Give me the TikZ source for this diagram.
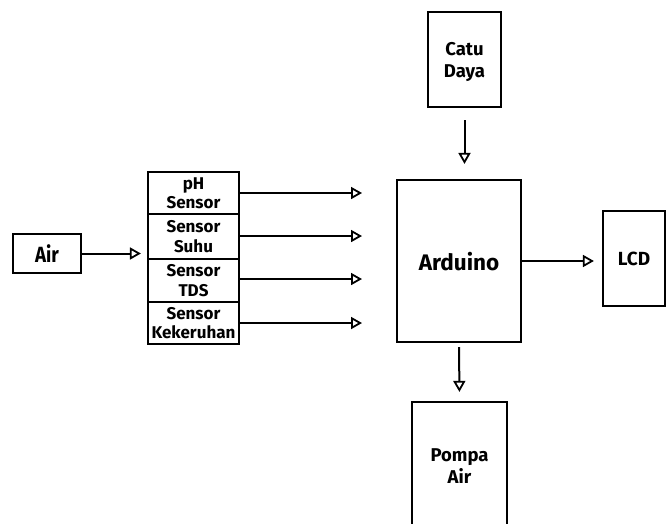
\documentclass[tikz,border=0pt]{standalone}
\usepackage{fontspec}
\setmainfont{Fira Sans}
\newfontfamily\condfont{Fira Sans}[FakeStretch=0.85]
\usetikzlibrary{arrows.meta}
\begin{document}
\begin{tikzpicture}[x=1pt,y=-1pt,
  box/.style={draw,line width=2.2pt,inner sep=0pt,align=center,text depth=0pt},
  arr/.style={line width=2pt,-{Triangle[open,length=11pt,width=12pt,line width=1.8pt]}},
  sens/.style={box,minimum width=91pt,font=\fontsize{17}{19.5}\selectfont\bfseries}]
\useasboundingbox (0,0) rectangle (666,524);
\node[box,minimum width=68pt,minimum height=39pt,font=\condfont\fontsize{22}{24}\selectfont\bfseries] (air) at (47,253.5) {Air};
\node[sens,minimum height=42pt] (ph) at (193.5,193) {pH\\Sensor};
\node[sens,minimum height=45pt] (suhu) at (193.5,236.5) {Sensor\\Suhu};
\node[sens,minimum height=43pt] (tds) at (193.5,280.5) {Sensor\\TDS};
\node[sens,minimum height=42pt] (kek) at (193.5,323) {Sensor\\Kekeruhan};
\node[box,minimum width=73pt,minimum height=95pt,font=\fontsize{18.5}{22}\selectfont\bfseries] (catu) at (464.5,59.5) {Catu\\Daya};
\node[box,minimum width=124pt,minimum height=162pt,font=\fontsize{22.5}{26}\selectfont\bfseries] (ard) at (459,261) {Arduino};
\node[box,minimum width=62pt,minimum height=95pt,font=\fontsize{19}{21}\selectfont\bfseries] (lcd) at (634,258.5) {LCD};
\node[box,minimum width=95pt,minimum height=128pt,font=\fontsize{18.5}{22}\selectfont\bfseries] (pompa) at (459.5,466) {Pompa\\Air};
\coordinate (e1) at (362,193);
\coordinate (e2) at (362,236);
\coordinate (e3) at (362,279);
\coordinate (e4) at (362,323);
\draw[arr,shorten >=6pt] (air.east) -- (air.east -| ph.west);
\draw[arr] (ph.east) -- (e1);
\draw[arr] (ph.east |- e2) -- (e2);
\draw[arr] (ph.east |- e3) -- (e3);
\draw[arr] (ph.east |- e4) -- (e4);
\draw[arr,shorten <=12pt,shorten >=15pt] (catu.south) -- (catu.south |- ard.north);
\draw[arr,shorten >=8pt] (ard.east) -- (ard.east -| lcd.west);
\draw[arr,shorten <=4pt,shorten >=9pt] (ard.south) -- (pompa.north);
\end{tikzpicture}
\end{document}
